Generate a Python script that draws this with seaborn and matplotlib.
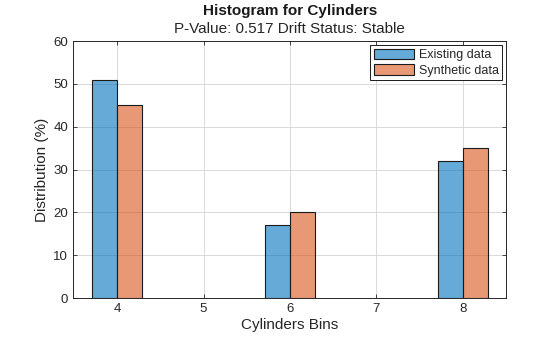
import matplotlib
matplotlib.use("Agg")
import matplotlib.pyplot as plt
import seaborn as sns
import pandas as pd

bins = [4, 6, 8]
existing = [51, 17, 32]
synthetic = [45, 20, 35]
series_names = ["Existing data", "Synthetic data"]
x_ticks = [4, 5, 6, 7, 8]
y_ticks = [0, 10, 20, 30, 40, 50, 60]

df = pd.DataFrame({
    "Bin": bins * 2,
    "Pct": existing + synthetic,
    "Source": [series_names[0]] * len(bins) + [series_names[1]] * len(bins),
})

sns.set_style("white")
plt.rcParams['font.family'] = ['Liberation Sans', 'DejaVu Sans']

fig = plt.figure(figsize=(5.6, 3.37), dpi=100)
ax = fig.add_axes([0.1304, 0.1157, 0.7732, 0.7626])

palette = {series_names[0]: "#0072BD", series_names[1]: "#D95319"}
sns.barplot(data=df, x="Bin", y="Pct", hue="Source", native_scale=True,
            width=0.29, gap=0, palette=palette, edgecolor="#1a1a1a",
            linewidth=0.8, saturation=1, ax=ax, zorder=3)

# semi-transparent faces, opaque edges (MATLAB-style FaceAlpha 0.6)
for p in ax.patches:
    fc = p.get_facecolor()
    p.set_facecolor((fc[0], fc[1], fc[2], 0.6))

ax.set_xlim(3.49, 8.5)
ax.set_ylim(0, 60)
ax.set_xticks(x_ticks)
ax.set_yticks(y_ticks)
ax.set_xticklabels([str(v) for v in x_ticks])
ax.tick_params(direction="in", length=3, width=0.6, colors="#262626",
               labelsize=9.5, top=True, right=True, bottom=True, left=True,
               labelcolor="#262626")
ax.grid(True, color="#d9d9d9", linewidth=0.7, zorder=0)
ax.set_axisbelow(True)
for s in ax.spines.values():
    s.set_color("#262626")
    s.set_linewidth(0.7)
    s.set_visible(True)

ax.set_xlabel("Cylinders Bins", fontsize=11, color="#262626", labelpad=2)
ax.set_ylabel("Distribution (%)", fontsize=11, color="#262626", labelpad=3)

fig.text(0.5175, 0.967, "Histogram for Cylinders", ha="center", va="center",
         fontsize=11, fontweight="bold", color="#1a1a1a")
fig.text(0.5175, 0.915, "P-Value: 0.517 Drift Status: Stable", ha="center",
         va="center", fontsize=11, color="#262626")

leg = ax.legend(loc="upper right", fontsize=9, frameon=True, fancybox=False,
                edgecolor="#1a1a1a", handlelength=3.2, handleheight=0.9,
                borderaxespad=0.3, borderpad=0.3, labelspacing=0.25,
                handletextpad=0.4, title=None, framealpha=1)
leg.get_frame().set_linewidth(0.7)
for h in leg.legend_handles:
    fc = h.get_facecolor()
    h.set_facecolor((fc[0], fc[1], fc[2], 0.6))

fig.savefig("out.png", dpi=100)
